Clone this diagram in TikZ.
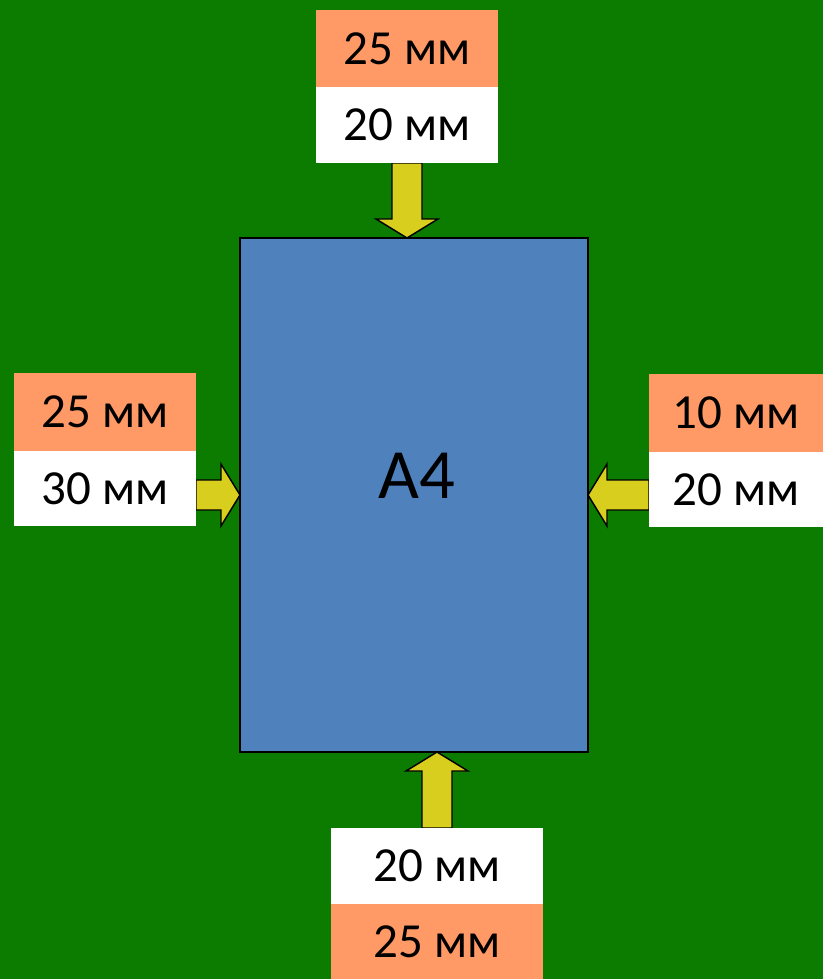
\documentclass[tikz,border=0pt]{standalone}
\usepackage{fontspec}
\setmainfont{Carlito}
\usetikzlibrary{positioning,calc,backgrounds}
\definecolor{bggreen}{RGB}{12,124,0}
\definecolor{margorange}{RGB}{255,153,102}
\definecolor{arrowyellow}{RGB}{216,206,30}
\definecolor{sheetblue}{RGB}{79,129,189}
\def\px{0.75pt}
\tikzset{
  margbox/.style={inner sep=0pt, outer sep=0pt, minimum width=#1*\px,
    font=\fontsize{36.75}{44}\selectfont},
  orangebox/.style={margbox=#1, fill=margorange},
  whitebox/.style={margbox=#1, fill=white},
  blockarrow/.style={draw=black, line width=1.1pt, fill=arrowyellow, line join=miter,
    to path={($(\tikztostart)!11.25pt!90:(\tikztotarget)$)
      -- ($(\tikztotarget)!14.25pt!(\tikztostart)!11.25pt!90:(\tikztotarget)$)
      -- ($(\tikztotarget)!14.25pt!(\tikztostart)!23.25pt!90:(\tikztotarget)$)
      -- (\tikztotarget)
      -- ($(\tikztotarget)!14.25pt!(\tikztostart)!23.25pt!-90:(\tikztotarget)$)
      -- ($(\tikztotarget)!14.25pt!(\tikztostart)!11.25pt!-90:(\tikztotarget)$)
      -- ($(\tikztostart)!11.25pt!-90:(\tikztotarget)$) -- cycle}}
}
\begin{document}
\begin{tikzpicture}[x=0.75pt, y=-0.75pt]
  \useasboundingbox (0,0) rectangle (823,979);
  % the sheet
  \node[draw=black, line width=1.1pt, fill=sheetblue, inner sep=0pt, outer sep=0pt,
    minimum width=348*\px, minimum height=514*\px] (sheet) at (414,495) {};
  \node[font=\fontsize{53}{60}\selectfont] (a4) at ([xshift=3*\px, yshift=19*\px]sheet.center) {A4};
  % margins
  \node[orangebox=182, minimum height=77*\px] (top1) at (407,48.5) {25 мм};
  \node[whitebox=182, minimum height=76*\px, below=0pt of top1] (top2) {20 мм};
  \node[orangebox=182, minimum height=78*\px] (left1) at (105,412) {25 мм};
  \node[whitebox=182, minimum height=75*\px, below=0pt of left1] (left2) {30 мм};
  \node[orangebox=174, minimum height=78*\px] (right1) at (736,413) {10 мм};
  \node[whitebox=174, minimum height=75*\px, below=0pt of right1] (right2) {20 мм};
  \node[whitebox=212, minimum height=76*\px] (bot1) at (437,866) {20 мм};
  \node[orangebox=212, minimum height=75*\px, below=0pt of bot1] (bot2) {25 мм};
  \coordinate (topend) at (top2.south |- sheet.north);
  \coordinate (leftstart) at (left2.east |- sheet.west);
  \coordinate (rightstart) at (right2.west |- sheet.east);
  \coordinate (botend) at (bot1.north |- sheet.south);
  \begin{scope}[on background layer]
    \fill[bggreen] (0,0) rectangle (823,979);
    \draw[blockarrow] (top2.south) to (topend);
    \draw[blockarrow] (leftstart) to (sheet.west);
    \draw[blockarrow] (rightstart) to (sheet.east);
    \draw[blockarrow] (bot1.north) to (botend);
  \end{scope}
\end{tikzpicture}
\end{document}
